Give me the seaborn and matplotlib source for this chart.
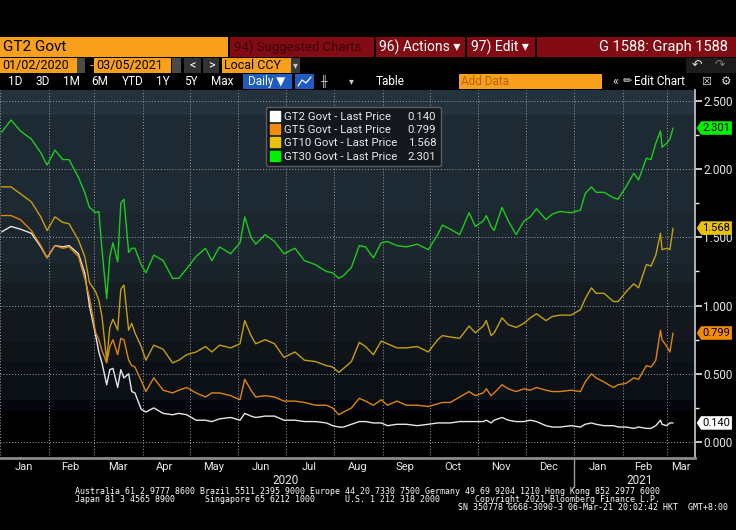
import matplotlib
matplotlib.use("Agg")
import matplotlib.pyplot as plt
import matplotlib.dates as mdates
import matplotlib.transforms as mtransforms
from matplotlib.patches import Rectangle
from matplotlib.lines import Line2D
from matplotlib.path import Path
from matplotlib.ticker import MultipleLocator, FormatStrFormatter, FixedLocator, NullFormatter
import numpy as np
import pandas as pd
import seaborn as sns

# %% data (US treasury yields, %)
dates = [
    "2020-01-02", "2020-01-08", "2020-01-14", "2020-01-21", "2020-01-27", "2020-01-31",
    "2020-02-05", "2020-02-10", "2020-02-14", "2020-02-20", "2020-02-24", "2020-02-27",
    "2020-03-02", "2020-03-04", "2020-03-06", "2020-03-09", "2020-03-11", "2020-03-13",
    "2020-03-16", "2020-03-18", "2020-03-20", "2020-03-23", "2020-03-25", "2020-03-27",
    "2020-03-31",
    "2020-04-03", "2020-04-08", "2020-04-14", "2020-04-20", "2020-04-24", "2020-04-29",
    "2020-05-05", "2020-05-11", "2020-05-15", "2020-05-20", "2020-05-27",
    "2020-06-02", "2020-06-05", "2020-06-09", "2020-06-12", "2020-06-18", "2020-06-24", "2020-06-30",
    "2020-07-07", "2020-07-13", "2020-07-20", "2020-07-27", "2020-07-31",
    "2020-08-04", "2020-08-07", "2020-08-12", "2020-08-17", "2020-08-21", "2020-08-26", "2020-08-31",
    "2020-09-04", "2020-09-10", "2020-09-16", "2020-09-23", "2020-09-30",
    "2020-10-06", "2020-10-09", "2020-10-14", "2020-10-20", "2020-10-26", "2020-10-30",
    "2020-11-04", "2020-11-06", "2020-11-09", "2020-11-11", "2020-11-16", "2020-11-20",
    "2020-11-25", "2020-11-30",
    "2020-12-04", "2020-12-08", "2020-12-14", "2020-12-18", "2020-12-23", "2020-12-30",
    "2021-01-05", "2021-01-08", "2021-01-12", "2021-01-15", "2021-01-20", "2021-01-26", "2021-01-29",
    "2021-02-03", "2021-02-08", "2021-02-11", "2021-02-16", "2021-02-19", "2021-02-22",
    "2021-02-25", "2021-02-26", "2021-03-01", "2021-03-03", "2021-03-05",
]

gt30 = [2.27, 2.36, 2.28, 2.22, 2.12, 2.03,
        2.14, 2.07, 2.07, 1.94, 1.83, 1.72,
        1.68, 1.69, 1.41, 1.05, 1.36, 1.46, 1.32, 1.75, 1.78, 1.39, 1.42, 1.42, 1.30,
        1.24, 1.37, 1.33, 1.20, 1.20, 1.27,
        1.36, 1.42, 1.33, 1.43, 1.38,
        1.46, 1.65, 1.50, 1.45, 1.52, 1.47, 1.38,
        1.42, 1.33, 1.30, 1.25, 1.24,
        1.20, 1.22, 1.28, 1.44, 1.43, 1.35, 1.46,
        1.47, 1.44, 1.43, 1.45, 1.41,
        1.52, 1.59, 1.56, 1.52, 1.68, 1.58,
        1.62, 1.66, 1.58, 1.55, 1.72, 1.62, 1.52, 1.62,
        1.65, 1.71, 1.63, 1.67, 1.69, 1.68,
        1.70, 1.82, 1.87, 1.83, 1.83, 1.79, 1.78,
        1.87, 1.97, 1.92, 2.08, 2.07, 2.19, 2.28, 2.16, 2.19, 2.22, 2.301]

gt10 = [1.87, 1.87, 1.82, 1.76, 1.65, 1.55,
        1.65, 1.61, 1.60, 1.48, 1.36, 1.17,
        1.10, 1.04, 0.92, 0.60, 0.84, 0.90, 0.82, 1.12, 1.15, 0.82, 0.87, 0.80, 0.70,
        0.60, 0.71, 0.68, 0.58, 0.60, 0.64,
        0.66, 0.70, 0.66, 0.71, 0.69,
        0.72, 0.89, 0.78, 0.72, 0.75, 0.72, 0.62,
        0.66, 0.60, 0.59, 0.56, 0.55,
        0.51, 0.54, 0.59, 0.73, 0.70, 0.64, 0.74,
        0.72, 0.69, 0.69, 0.70, 0.66,
        0.75, 0.78, 0.77, 0.76, 0.85, 0.80,
        0.85, 0.89, 0.78, 0.80, 0.91, 0.86, 0.84, 0.87,
        0.91, 0.94, 0.89, 0.92, 0.93, 0.93,
        0.97, 1.05, 1.13, 1.09, 1.09, 1.03, 1.03,
        1.10, 1.16, 1.13, 1.30, 1.29, 1.37, 1.53, 1.41, 1.42, 1.41, 1.568]

gt5 = [1.66, 1.66, 1.63, 1.55, 1.44, 1.35,
       1.44, 1.42, 1.43, 1.36, 1.20, 1.06,
       0.80, 0.75, 0.67, 0.58, 0.70, 0.75, 0.64, 0.76, 0.75, 0.60, 0.56, 0.55, 0.45,
       0.37, 0.47, 0.38, 0.36, 0.38, 0.40,
       0.36, 0.33, 0.36, 0.36, 0.34,
       0.31, 0.46, 0.38, 0.33, 0.34, 0.33, 0.30,
       0.30, 0.29, 0.27, 0.27, 0.25,
       0.20, 0.22, 0.25, 0.32, 0.30, 0.27, 0.31,
       0.27, 0.30, 0.27, 0.27, 0.26,
       0.28, 0.29, 0.29, 0.33, 0.37, 0.34,
       0.36, 0.39, 0.34, 0.36, 0.42, 0.39, 0.37, 0.39,
       0.38, 0.40, 0.38, 0.37, 0.37, 0.38,
       0.37, 0.44, 0.50, 0.47, 0.44, 0.40, 0.42,
       0.43, 0.47, 0.46, 0.56, 0.55, 0.60, 0.82, 0.75, 0.70, 0.66, 0.799]

gt2 = [1.54, 1.58, 1.56, 1.53, 1.43, 1.35,
       1.44, 1.43, 1.44, 1.38, 1.24, 1.00,
       0.78, 0.66, 0.58, 0.42, 0.53, 0.54, 0.40, 0.53, 0.47, 0.50, 0.37, 0.36, 0.24,
       0.22, 0.25, 0.21, 0.20, 0.21, 0.20,
       0.16, 0.16, 0.15, 0.17, 0.18,
       0.16, 0.21, 0.19, 0.18, 0.19, 0.19, 0.16,
       0.16, 0.15, 0.15, 0.14, 0.12,
       0.11, 0.11, 0.13, 0.15, 0.15, 0.14, 0.14,
       0.12, 0.13, 0.13, 0.12, 0.13,
       0.14, 0.14, 0.14, 0.15, 0.15, 0.15,
       0.15, 0.16, 0.14, 0.16, 0.18, 0.16, 0.15, 0.15,
       0.16, 0.15, 0.12, 0.11, 0.11, 0.12,
       0.11, 0.13, 0.14, 0.13, 0.12, 0.12, 0.11,
       0.11, 0.10, 0.11, 0.10, 0.10, 0.12, 0.16, 0.13, 0.12, 0.14, 0.140]

series_names = ["GT2 Govt", "GT5 Govt", "GT10 Govt", "GT30 Govt"]
last_prices = [0.140, 0.799, 1.568, 2.301]
line_colors = ["#e6e6e6", "#de8410", "#c4a010", "#1ccc1c"]
swatch_colors = ["#ffffff", "#f28c0a", "#e8c20c", "#00f000"]

month_label_dates = ["2020-01-16", "2020-02-15", "2020-03-16", "2020-04-15", "2020-05-16",
                     "2020-06-15", "2020-07-16", "2020-08-16", "2020-09-15", "2020-10-16",
                     "2020-11-15", "2020-12-16", "2021-01-16", "2021-02-14", "2021-03-10"]

# %% long table for seaborn
df = pd.DataFrame({
    "date": pd.to_datetime(dates * 4),
    "yield": gt2 + gt5 + gt10 + gt30,
    "series": np.repeat(series_names, len(dates)),
})

sns.set_theme(style="dark")
plt.rcParams["font.family"] = ["Roboto", "DejaVu Sans"]

W, H = 736, 530
ORANGE = "#f8a01c"
RED = "#830b14"

fig = plt.figure(figsize=(W / 100, H / 100), dpi=100, facecolor="black")
ax = fig.add_axes([0, 72 / H, 695 / W, 368 / H])
ax.set_facecolor("black")

# background bands, dark at the bottom
band_edges = [-0.3, 0.23, 0.31, 0.59, 0.73, 0.99, 1.17, 1.31, 1.68, 2.40, 2.8]
band_colors = ["#000000", "#04060d", "#0b0f16", "#0f1419", "#12181e", "#151d23",
               "#19232a", "#1b262e", "#1d2a33", "#24323d"]
for lo, hi, c in zip(band_edges[:-1], band_edges[1:], band_colors):
    ax.axhspan(lo, hi, color=c, lw=0, zorder=0)

sns.lineplot(data=df, x="date", y="yield", hue="series", hue_order=series_names,
             palette=dict(zip(series_names, line_colors)), linewidth=1.0,
             legend=False, ax=ax, zorder=3)

ax.set_xlim(pd.Timestamp("2020-01-01"), pd.Timestamp("2021-03-19"))
ax.set_ylim(-0.117, 2.58)
ax.set_xlabel("")
ax.set_ylabel("")

# y axis on the right
ax.yaxis.tick_right()
ax.yaxis.set_major_locator(MultipleLocator(0.5))
ax.yaxis.set_minor_locator(MultipleLocator(0.25))
ax.yaxis.set_major_formatter(FormatStrFormatter("%.3f"))
ax.tick_params(axis="y", which="major", colors="#e8e8e8", labelsize=8.5,
               length=5, width=1.2, pad=1, labelcolor="#e8e8e8")
ax.tick_params(axis="y", which="minor", colors="#e8e8e8", length=3, width=1)

# x axis: ticks at month starts, labels mid-month
ax.xaxis.set_major_locator(mdates.MonthLocator())
ax.xaxis.set_major_formatter(NullFormatter())
ax.xaxis.set_minor_locator(FixedLocator(mdates.date2num(pd.to_datetime(month_label_dates))))
ax.xaxis.set_minor_formatter(mdates.DateFormatter("%b"))
ax.tick_params(axis="x", which="major", colors="#9a9a9a", length=3, width=1)
ax.tick_params(axis="x", which="minor", length=0, labelsize=8, labelcolor="#e8e8e8", pad=3)

ax.grid(True, which="major", color="#a0a0a0", linestyle=(0, (1, 2)), linewidth=0.7)
ax.set_axisbelow(True)
for side in ["left", "top"]:
    ax.spines[side].set_visible(False)
ax.spines["right"].set_color("#bdbdbd")
ax.spines["right"].set_linewidth(1.3)
ax.spines["bottom"].set_color("#8a8a8a")
ax.spines["bottom"].set_linewidth(2)

# year labels under the months
xt = mtransforms.blended_transform_factory(ax.transData, ax.transAxes)
ax.text(pd.Timestamp("2020-07-01"), -0.06, "2020", transform=xt, ha="center", va="center",
        fontsize=8.5, color="#e8e8e8")
ax.text(pd.Timestamp("2021-02-12"), -0.06, "2021", transform=xt, ha="center", va="center",
        fontsize=8.5, color="#e8e8e8")
ax.plot([pd.Timestamp("2021-01-01")] * 2, [0, -0.08], transform=xt, color="#9a9a9a",
        lw=1, clip_on=False)


# last price tags on the right axis
def tag_box(x0, y0, width, height, mutation_size):
    pad = 0.12 * mutation_size
    h = height + 2 * pad
    tip = 0.32 * h
    xa, ya = x0 - pad - tip, y0 - pad
    xb, yb = x0 + width + pad, y0 + height + pad
    ym = (ya + yb) / 2
    return Path([(xa, ym), (xa + tip, yb), (xb, yb), (xb, ya), (xa + tip, ya), (xa, ym)],
                closed=True)


yt = mtransforms.blended_transform_factory(ax.transAxes, ax.transData)
shift = mtransforms.ScaledTranslation(7.5 / 100, 0, fig.dpi_scale_trans)
for v, c in zip(last_prices, swatch_colors):
    ax.text(1.0, v, f"{v:.3f}", transform=yt + shift,
            ha="left", va="center", fontsize=8, color="black", zorder=6, clip_on=False,
            bbox=dict(boxstyle=tag_box, fc=c, ec=c, lw=0.5))

# legend: names in one column, last prices in the other
handles = [Line2D([], [], marker="s", linestyle="none", markersize=7.5,
                  markerfacecolor=c, markeredgecolor=c) for c in swatch_colors]
blank = [Line2D([], [], linestyle="none") for _ in swatch_colors]
labels = [f"{n} - Last Price" for n in series_names] + [f"{v:.3f}" for v in last_prices]
leg = ax.legend(handles + blank, labels, ncol=2, loc="upper left",
                bbox_to_anchor=(266 / 695, (458 - 107) / 368), frameon=True,
                fontsize=8.2, labelcolor="#e8e8e8", facecolor="#12181d", edgecolor="#5c5c5c",
                framealpha=1, fancybox=True, handlelength=0.8, handletextpad=0.4,
                columnspacing=-0.3, labelspacing=0.3, borderpad=0.4, borderaxespad=0)
leg.set_zorder(7)


# %% Bloomberg screen chrome
def px_rect(x, y, w, h, color):
    fig.add_artist(Rectangle((x / W, 1 - (y + h) / H), w / W, h / H, transform=fig.transFigure,
                             facecolor=color, edgecolor="none", zorder=0))


def px_text(x, y, s, size=9, color="white", ha="left", **kw):
    fig.text(x / W, 1 - y / H, s, fontsize=size, color=color, ha=ha, va="center", **kw)


# row 1
px_rect(0, 37, 228, 20, ORANGE)
px_text(3, 47, "GT2 Govt", 11, "black")
px_rect(230, 37, 506, 20, RED)
px_text(234, 47, "94) Suggested Charts", 9.5, "#3a050a")
for sx in [374, 465, 535]:
    px_rect(sx, 37, 2, 20, "black")
px_text(379, 47, "96) Actions ▾", 10)
px_text(471, 47, "97) Edit ▾", 10)
px_text(728, 47, "G 1588: Graph 1588", 10.5, ha="right")

# row 2
px_rect(0, 58, 77, 15, ORANGE)
px_text(2, 65.5, "01/02/2020", 9, "black")
px_rect(77, 58, 8, 15, "#4a4a4a")
px_text(90, 65.5, "-", 9, ORANGE)
px_rect(94, 58, 77, 15, ORANGE)
px_text(96, 65.5, "03/05/2021", 9, "black")
px_rect(172, 58, 9, 15, "#4a4a4a")
px_rect(184, 58, 17, 15, "#333333")
px_text(192.5, 65.5, "<", 9, ha="center")
px_rect(203, 58, 16, 15, "#333333")
px_text(211, 65.5, ">", 9, ha="center")
px_rect(222, 58, 69, 15, ORANGE)
px_text(224, 65.5, "Local CCY", 9, "black")
px_rect(291, 58, 9, 15, "#3a3a3a")
px_text(295.5, 65.5, "▾", 7, "#cccccc", ha="center")
px_rect(686, 58, 50, 15, "#1c1c1c")
px_text(697, 65.5, "↶", 9, "#dddddd", ha="center")
px_text(720, 65.5, "↷", 9, "#777777", ha="center")

# row 3
for lab, cx in zip(["1D", "3D", "1M", "6M", "YTD", "1Y", "5Y", "Max"],
                   [15, 43, 71, 100, 133, 163, 191, 222]):
    px_text(cx, 81.5, lab, 8.5, ha="center")
px_rect(243, 74, 49, 15, "#1f5cc0")
px_text(267, 81.5, "Daily ▼", 8.5, ha="center")
px_rect(295, 74, 19, 15, "#1f5cc0")
fig.add_artist(Line2D(np.array([298, 302, 306, 311]) / W, 1 - np.array([86, 80, 83, 77]) / H,
                      transform=fig.transFigure, color="white", lw=0.9))
px_text(324, 81.5, "╫", 8, "#bbbbbb", ha="center")
px_text(351, 81.5, "▾", 7, "#cccccc", ha="center")
px_text(390, 81.5, "Table", 8.5, ha="center")
px_rect(459, 74, 143, 15, ORANGE)
px_text(461, 81.5, "Add Data", 8.5, "#b8620a")
px_text(615, 81.5, "«", 9, "#dddddd", ha="center")
px_text(627, 81.5, "✏", 8, "#dddddd", ha="center")
px_text(634, 81.5, "Edit Chart", 8.5)
px_text(706, 81.5, "☒", 8, "#dddddd", ha="center")
px_text(726, 81.5, "⚙", 8.5, "#dddddd", ha="center")

# footer
MONO = "DejaVu Sans Mono"
px_text(75, 491, "Australia 61 2 9777 8600 Brazil 5511 2395 9000 Europe 44 20 7330 7500 "
        "Germany 49 69 9204 1210 Hong Kong 852 2977 6000", 5.95, family=MONO)
px_text(75, 499.5, "Japan 81 3 4565 8900", 5.95, family=MONO)
px_text(205, 499.5, "Singapore 65 6212 1000", 5.95, family=MONO)
px_text(345, 499.5, "U.S. 1 212 318 2000", 5.95, family=MONO)
px_text(475, 499.5, "Copyright 2021 Bloomberg Finance L.P.", 5.95, family=MONO)
px_text(728, 508, "SN 350778 G668-3090-3 06-Mar-21 20:02:42 HKT  GMT+8:00", 5.95,
        ha="right", family=MONO)

fig.savefig("out.png", dpi=100, facecolor="black")
